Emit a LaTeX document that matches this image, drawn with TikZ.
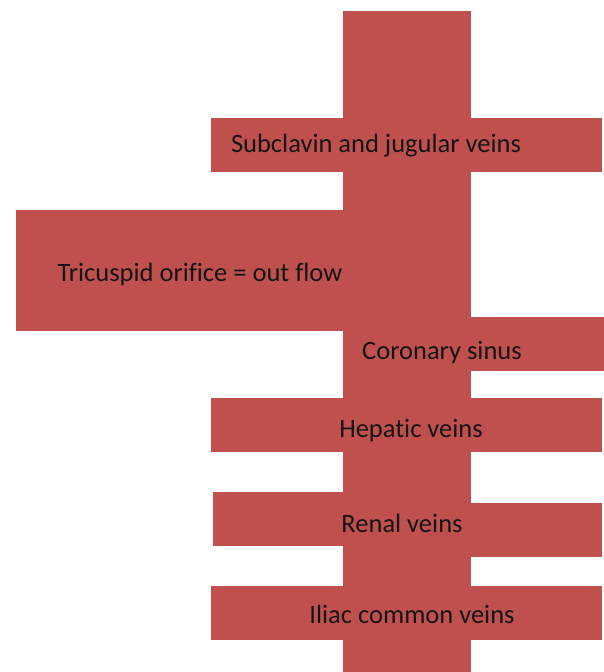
\documentclass[tikz,border=0pt]{standalone}
\usepackage{fontspec}
\setmainfont{Carlito}[Ligatures=NoCommon]
\usepackage{tikz}
\definecolor{veinRed}{HTML}{C0504D}
\definecolor{labelInk}{HTML}{141414}

\begin{document}
\begin{tikzpicture}[x=1pt,y=-1pt,
    bar/.style={fill=veinRed},
    veinlabel/.style={text=labelInk,inner sep=0pt,font=\fontsize{26.5}{31}\selectfont}]
    \useasboundingbox (0,0) rectangle (604,672);
    % main trunk
    \fill[bar] (343,11) rectangle (471,672);
    % side branches
    \fill[bar] (211,118) rectangle (602,172);
    \fill[bar] (16,210) rectangle (344,331);
    \fill[bar] (343,317) rectangle (604,371);
    \fill[bar] (211,398) rectangle (602,452);
    \fill[bar] (213,492) rectangle (344,546);
    \fill[bar] (470,503) rectangle (602,557);
    \fill[bar] (211,586) rectangle (602,640);
    \node[veinlabel] (subclavin) at (376,146) {Subclavin and jugular veins};
    \node[veinlabel] (tricuspid) at (200,274) {Tricuspid orifice = out flow};
    \node[veinlabel] (coronary) at (442,353) {Coronary sinus};
    \node[veinlabel] (hepatic) at (411,431) {Hepatic veins};
    \node[veinlabel] (renal) at (402,523) {Renal veins};
    \node[veinlabel] (iliac) at (412,614) {Iliac common veins};
  \end{tikzpicture}
\end{document}
